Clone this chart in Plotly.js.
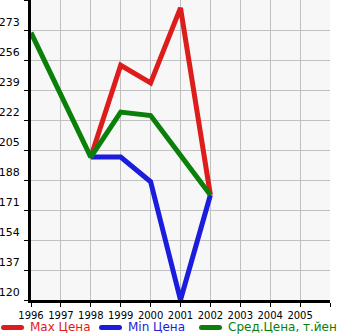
<!DOCTYPE html>
<html><head><meta charset="utf-8">
<script src="https://cdn.plot.ly/plotly-3.0.1.min.js"></script>
<style>html,body{margin:0;padding:0;background:#fff}</style>
</head><body><div id="c" style="width:345px;height:335px"></div>
<script>
const years = [1996, 1997, 1998, 1999, 2000, 2001, 2002, 2003, 2004, 2005];
const maxYears = [1998, 1999, 2000, 2001, 2002];
const maxPrice = [201, 253, 243, 285.5, 179.5];
const minYears = [1998, 1999, 2000, 2001, 2002];
const minPrice = [201, 201, 187, 120, 179.5];
const avgYears = [1996, 1998, 1999, 2000, 2001, 2002];
const avgPrice = [271.5, 201, 226.5, 224.5, 202, 179.5];
const yTicks = [120, 137, 154, 171, 188, 205, 222, 239, 256, 273, 290];
const names = ['Max Цена', 'Min Цена', 'Сред.Цена, т.йен'];
const colors = ['#dd1c1c', '#1c1cdd', '#0a800a'];

const mk = (x, y, i) => ({
  x: x, y: y, type: 'scatter', mode: 'lines', name: names[i],
  line: {color: colors[i], width: 5, shape: 'linear'},
  cliponaxis: false
});
const data = [mk(maxYears, maxPrice, 0), mk(minYears, minPrice, 1), mk(avgYears, avgPrice, 2)];

// manual legend (plot area: x 31..330 px, y 0..300 px)
const W = 299, H = 300, L = 31;
const px = v => (v - L) / W;
const py = v => (300 - v) / H;
const legX = [1, 99, 199];
const shapes = [], annotations = [];
names.forEach((n, i) => {
  shapes.push({type: 'line', xref: 'paper', yref: 'paper',
    x0: px(legX[i] + 2), x1: px(legX[i] + 20), y0: py(327.5), y1: py(327.5),
    line: {color: colors[i], width: 5}});
  shapes.push({type: 'circle', xref: 'paper', yref: 'paper', fillcolor: colors[i],
    line: {width: 0}, x0: px(legX[i]), x1: px(legX[i] + 5), y0: py(330), y1: py(325)});
  shapes.push({type: 'circle', xref: 'paper', yref: 'paper', fillcolor: colors[i],
    line: {width: 0}, x0: px(legX[i] + 18), x1: px(legX[i] + 23), y0: py(330), y1: py(325)});
  annotations.push({xref: 'paper', yref: 'paper', x: px(legX[i] + 27), y: py(327.5),
    xanchor: 'left', yanchor: 'middle', showarrow: false, text: n,
    font: {size: 12, color: colors[i]}});
});

const xt = years.concat([2006]);
const layout = {
  width: 345, height: 335,
  margin: {l: 31, r: 15, t: 0, b: 35},
  paper_bgcolor: '#ffffff', plot_bgcolor: '#f7f7f7',
  font: {family: 'DejaVu Sans', size: 10, color: '#000'},
  showlegend: false,
  shapes: shapes, annotations: annotations,
  xaxis: {range: [1996, 2006], tickvals: xt, ticktext: xt.map(v => v === 2006 ? '' : String(v)),
          showgrid: true, gridcolor: '#c0c0c0', gridwidth: 1,
          showline: true, linecolor: '#000', linewidth: 3,
          ticks: 'outside', ticklen: 4, tickcolor: '#000', zeroline: false,
          tickfont: {size: 10}, automargin: false},
  yaxis: {range: [120, 290], tickvals: yTicks, ticktext: yTicks.map(v => v === 290 ? '' : String(v)),
          showgrid: true, gridcolor: '#c0c0c0', gridwidth: 1,
          showline: true, linecolor: '#000', linewidth: 3,
          ticks: 'outside', ticklen: 4, tickcolor: '#000', zeroline: false,
          ticklabelposition: 'outside top', ticklabelstandoff: 6, tickfont: {size: 11}, automargin: false}
};
Plotly.newPlot('c', data, layout, {displayModeBar: false, staticPlot: true});
</script></body></html>
